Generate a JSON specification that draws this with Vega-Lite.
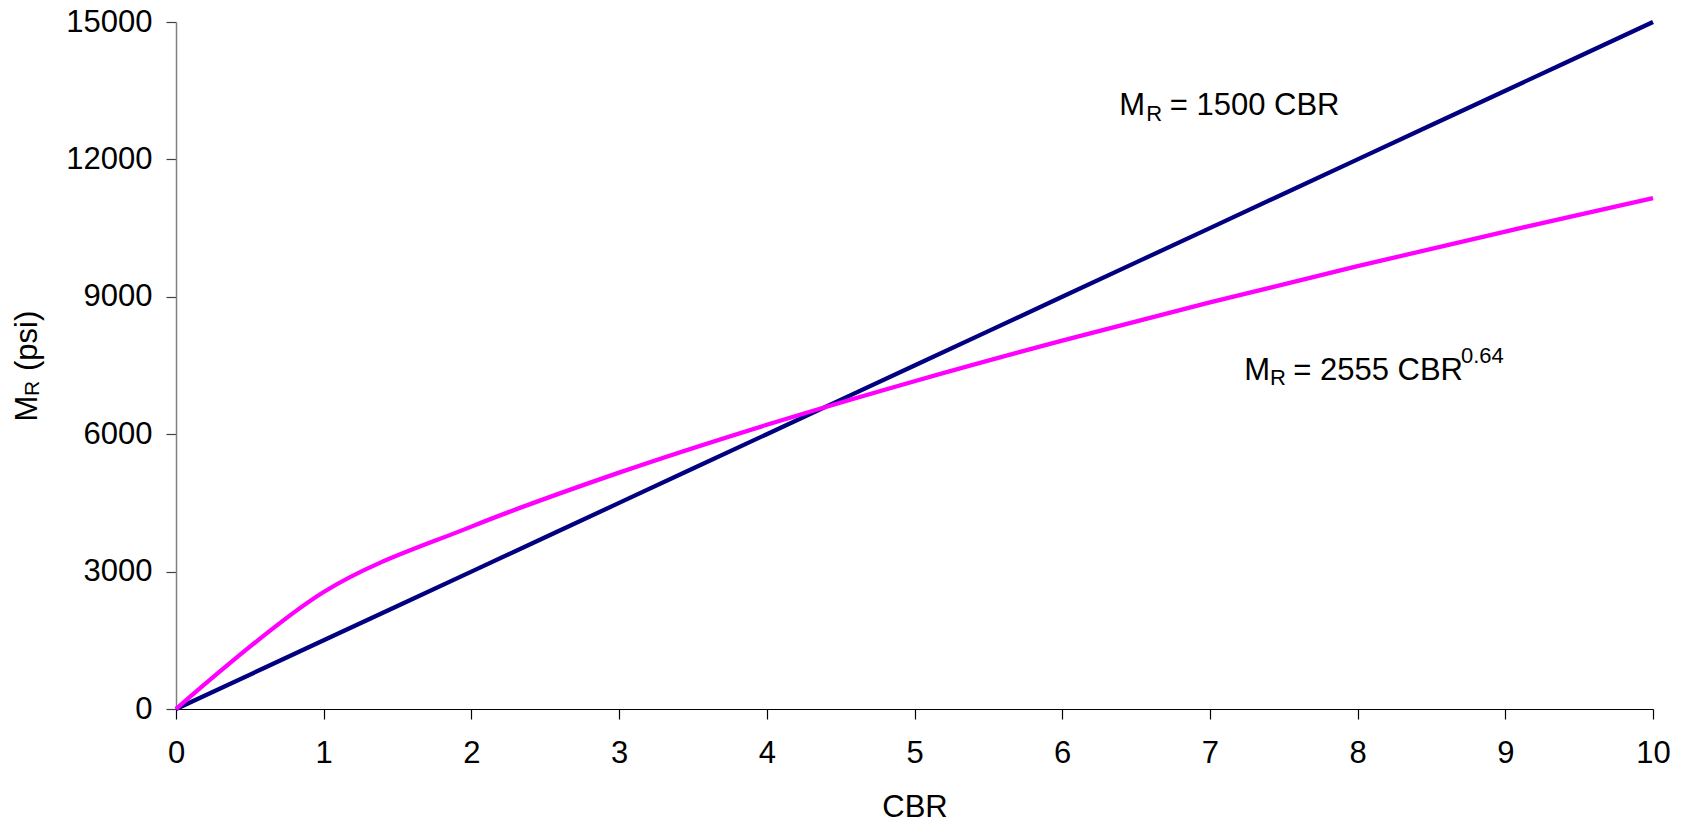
{
  "$schema": "https://vega.github.io/schema/vega-lite/v6.json",
  "width": 1477,
  "height": 687,
  "autosize": {"type": "none"},
  "padding": {"left": 176, "top": 22, "right": 35, "bottom": 116},
  "background": "white",
  "config": {"view": {"stroke": null}, "font": "Liberation Sans"},
  "datasets": {
    "curves": [
      {"series": "1500 CBR", "CBR": 0, "MR": 0},
      {"series": "1500 CBR", "CBR": 1, "MR": 1500},
      {"series": "1500 CBR", "CBR": 2, "MR": 3000},
      {"series": "1500 CBR", "CBR": 3, "MR": 4500},
      {"series": "1500 CBR", "CBR": 4, "MR": 6000},
      {"series": "1500 CBR", "CBR": 5, "MR": 7500},
      {"series": "1500 CBR", "CBR": 6, "MR": 9000},
      {"series": "1500 CBR", "CBR": 7, "MR": 10500},
      {"series": "1500 CBR", "CBR": 8, "MR": 12000},
      {"series": "1500 CBR", "CBR": 9, "MR": 13500},
      {"series": "1500 CBR", "CBR": 10, "MR": 15000},
      {"series": "2555 CBR^0.64", "CBR": 0, "MR": 0},
      {"series": "2555 CBR^0.64", "CBR": 1, "MR": 2555},
      {"series": "2555 CBR^0.64", "CBR": 2, "MR": 3982},
      {"series": "2555 CBR^0.64", "CBR": 3, "MR": 5161},
      {"series": "2555 CBR^0.64", "CBR": 4, "MR": 6205},
      {"series": "2555 CBR^0.64", "CBR": 5, "MR": 7157},
      {"series": "2555 CBR^0.64", "CBR": 6, "MR": 8043},
      {"series": "2555 CBR^0.64", "CBR": 7, "MR": 8877},
      {"series": "2555 CBR^0.64", "CBR": 8, "MR": 9669},
      {"series": "2555 CBR^0.64", "CBR": 9, "MR": 10425},
      {"series": "2555 CBR^0.64", "CBR": 10, "MR": 11153}
    ],
    "annotMain": [
      {"CBR": 6.387, "MR": 12962, "text": "M"},
      {"CBR": 6.728, "MR": 12962, "text": "= 1500 CBR"},
      {"CBR": 7.233, "MR": 7194, "text": "M"},
      {"CBR": 7.564, "MR": 7194, "text": "= 2555 CBR"}
    ],
    "annotSmall": [
      {"CBR": 6.569, "MR": 12837, "text": "R"},
      {"CBR": 7.407, "MR": 7085, "text": "R"},
      {"CBR": 8.70, "MR": 7555, "text": "0.64"}
    ],
    "yTitleMain": [
      {"CBR": -0.943, "MR": 6277, "text": "M"},
      {"CBR": -0.943, "MR": 7380, "text": "(psi)"}
    ],
    "yTitleSmall": [
      {"CBR": -0.927, "MR": 6834, "text": "R"}
    ]
  },
  "layer": [
    {
      "data": {"name": "curves"},
      "mark": {"type": "line", "interpolate": "cardinal", "strokeWidth": 4.3, "clip": false},
      "encoding": {
        "x": {
          "field": "CBR", "type": "quantitative",
          "scale": {"domain": [0, 10], "nice": false, "zero": false},
          "axis": {
            "values": [0, 1, 2, 3, 4, 5, 6, 7, 8, 9, 10], "format": "d",
            "grid": false, "domainColor": "#000000", "domainWidth": 1.2,
            "tickColor": "#000000", "tickSize": 10, "tickWidth": 1.2,
            "labelFontSize": 31, "labelColor": "#000000", "labelPadding": 19,
            "labelFlush": false, "labelOverlap": false, "labelFont": "Liberation Sans",
            "title": "CBR", "titleFontSize": 31, "titleFontWeight": "normal",
            "titleColor": "#000000", "titleFont": "Liberation Sans",
            "titleBaseline": "alphabetic", "titleY": 107
          }
        },
        "y": {
          "field": "MR", "type": "quantitative",
          "scale": {"domain": [0, 15000], "nice": false},
          "axis": {
            "values": [0, 3000, 6000, 9000, 12000, 15000], "format": "d",
            "grid": false, "domainColor": "#808080", "domainWidth": 1.5,
            "tickColor": "#404040", "tickSize": 10, "tickWidth": 1.2,
            "labelFontSize": 31, "labelColor": "#000000", "labelPadding": 14,
            "labelFont": "Liberation Sans", "labelFlush": false, "labelOverlap": false,
            "title": null
          }
        },
        "color": {
          "field": "series", "type": "nominal",
          "scale": {"domain": ["1500 CBR", "2555 CBR^0.64"], "range": ["#000080", "#FF00FF"]},
          "legend": null
        }
      }
    },
    {
      "data": {"name": "annotMain"},
      "mark": {"type": "text", "align": "left", "baseline": "alphabetic", "fontSize": 31, "font": "Liberation Sans", "color": "#000000"},
      "encoding": {
        "x": {"field": "CBR", "type": "quantitative"},
        "y": {"field": "MR", "type": "quantitative"},
        "text": {"field": "text"}
      }
    },
    {
      "data": {"name": "annotSmall"},
      "mark": {"type": "text", "align": "left", "baseline": "alphabetic", "fontSize": 22, "font": "Liberation Sans", "color": "#000000"},
      "encoding": {
        "x": {"field": "CBR", "type": "quantitative"},
        "y": {"field": "MR", "type": "quantitative"},
        "text": {"field": "text"}
      }
    },
    {
      "data": {"name": "yTitleMain"},
      "mark": {"type": "text", "align": "left", "baseline": "alphabetic", "angle": 270, "fontSize": 31, "font": "Liberation Sans", "color": "#000000"},
      "encoding": {
        "x": {"field": "CBR", "type": "quantitative"},
        "y": {"field": "MR", "type": "quantitative"},
        "text": {"field": "text"}
      }
    },
    {
      "data": {"name": "yTitleSmall"},
      "mark": {"type": "text", "align": "left", "baseline": "alphabetic", "angle": 270, "fontSize": 21, "font": "Liberation Sans", "color": "#000000"},
      "encoding": {
        "x": {"field": "CBR", "type": "quantitative"},
        "y": {"field": "MR", "type": "quantitative"},
        "text": {"field": "text"}
      }
    }
  ]
}
